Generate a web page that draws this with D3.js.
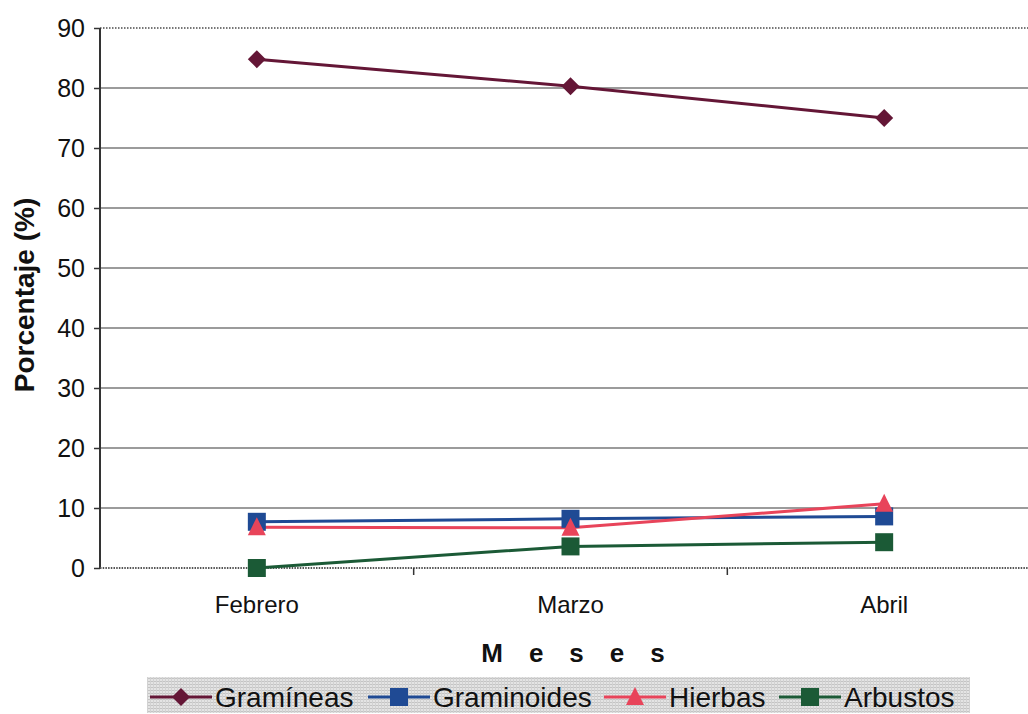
<!DOCTYPE html>
<html>
<head>
<meta charset="utf-8">
<script src="https://cdn.jsdelivr.net/npm/d3@7"></script>
<style>
  html, body { margin: 0; padding: 0; background: #fff; }
  svg { display: block; font-family: Arial, "Liberation Sans", sans-serif; }
</style>
</head>
<body>
<svg id="chart" width="1028" height="714"></svg>
<script>
// Months on the x axis
const months = ["Febrero", "Marzo", "Abril"];
// Percentage per plant group and month
const gramineas   = [84.8, 80.3, 75.0];
const graminoides = [7.7, 8.2, 8.6];
const hierbas     = [6.8, 6.7, 10.7];
const arbustos    = [0.0, 3.6, 4.3];
// Y axis ticks
const yTicks = [0, 10, 20, 30, 40, 50, 60, 70, 80, 90];

const series = [
  { name: "Gramíneas",   values: gramineas,   color: "#641636", marker: "diamond" },
  { name: "Graminoides", values: graminoides, color: "#1f4a94", marker: "square" },
  { name: "Hierbas",     values: hierbas,     color: "#e8445a", marker: "triangle" },
  { name: "Arbustos",    values: arbustos,    color: "#1b5a36", marker: "square" }
];

const svg = d3.select("#chart");
const plotLeft = 100, plotRight = 1041, plotTop = 28, plotBottom = 568;

const x = d3.scaleBand().domain(months).range([plotLeft, plotRight]);
const y = d3.scaleLinear().domain([0, 90]).range([plotBottom, plotTop]);

// Horizontal gridlines
svg.append("g").selectAll("line")
  .data(yTicks.filter(d => d > 0 && d < 90))
  .join("line")
  .attr("x1", plotLeft).attr("x2", 1028)
  .attr("y1", d => y(d)).attr("y2", d => y(d))
  .attr("stroke", "#7a7a7a").attr("stroke-width", 1.4);

// Top border (dotted)
svg.append("line")
  .attr("x1", plotLeft).attr("x2", 1028)
  .attr("y1", y(90)).attr("y2", y(90))
  .attr("stroke", "#777").attr("stroke-width", 2)
  .attr("stroke-dasharray", "1.5,1.5");

// Y axis
const yAxis = svg.append("g")
  .attr("transform", `translate(${plotLeft},0)`)
  .call(d3.axisLeft(y).tickValues(yTicks).tickSize(6).tickPadding(9));
yAxis.select(".domain").attr("stroke", "#333").attr("stroke-width", 2)
  .attr("d", `M0,${y(90)}V${y(0)}`);
yAxis.selectAll(".tick line").attr("stroke", "#333").attr("stroke-width", 1.5);
yAxis.selectAll(".tick text")
  .attr("font-size", 25).attr("fill", "#111")
  .attr("font-family", "Arial, 'Liberation Sans', sans-serif");

// X axis (ticks between categories)
const xAxis = svg.append("g")
  .attr("transform", `translate(0,${plotBottom})`)
  .call(d3.axisBottom(x).tickSize(0).tickPadding(28));
xAxis.select(".domain").remove();
xAxis.selectAll(".tick text")
  .attr("font-size", 24).attr("fill", "#111")
  .attr("font-family", "Arial, 'Liberation Sans', sans-serif");
svg.append("line")
  .attr("x1", plotLeft).attr("x2", 1028)
  .attr("y1", plotBottom).attr("y2", plotBottom)
  .attr("stroke", "#555").attr("stroke-width", 2)
  .attr("stroke-dasharray", "1.5,1.2");
svg.append("g").selectAll("line")
  .data(months.slice(1))
  .join("line")
  .attr("x1", d => x(d)).attr("x2", d => x(d))
  .attr("y1", plotBottom).attr("y2", plotBottom + 7)
  .attr("stroke", "#333").attr("stroke-width", 1.5);

// Axis titles
svg.append("text")
  .attr("transform", `translate(34,${(plotTop + plotBottom) / 2 - 3}) rotate(-90)`)
  .attr("text-anchor", "middle")
  .attr("font-size", 28).attr("font-weight", "bold").attr("fill", "#111")
  .text("Porcentaje (%)");
svg.append("text")
  .attr("x", 586).attr("y", 662)
  .attr("text-anchor", "middle")
  .attr("font-size", 26).attr("font-weight", "bold").attr("fill", "#111")
  .attr("letter-spacing", "26px")
  .text("Meses");

// Marker shapes
function markerPath(type) {
  if (type === "diamond") return "M0,-9L9,0L0,9L-9,0Z";
  if (type === "triangle") return "M0,-10L9,8L-9,8Z";
  return "M-9,-9H9V9H-9Z";
}

const line = d3.line()
  .x((d, i) => x(months[i]) + x.bandwidth() / 2)
  .y(d => y(d));

const plot = svg.append("g");
series.forEach(s => {
  plot.append("path")
    .attr("d", line(s.values))
    .attr("fill", "none")
    .attr("stroke", s.color)
    .attr("stroke-width", 3);
});
series.forEach(s => {
  plot.append("g").selectAll("path")
    .data(s.values)
    .join("path")
    .attr("transform", (d, i) => `translate(${x(months[i]) + x.bandwidth() / 2},${y(d)})`)
    .attr("d", markerPath(s.marker))
    .attr("fill", s.color);
});

// Legend with hatched grey background
const defs = svg.append("defs");
const pat = defs.append("pattern")
  .attr("id", "hatch").attr("patternUnits", "userSpaceOnUse")
  .attr("width", 3).attr("height", 3);
pat.append("rect").attr("width", 3).attr("height", 3).attr("fill", "#e4e4e4");
pat.append("rect").attr("width", 3).attr("height", 1).attr("fill", "#c4c4c4");
pat.append("rect").attr("width", 1).attr("height", 3).attr("fill", "#d2d2d2");

svg.append("rect")
  .attr("x", 147).attr("y", 677).attr("width", 823).attr("height", 36)
  .attr("fill", "url(#hatch)");

const legendX = [150, 368, 604, 779];
const legend = svg.append("g").selectAll("g")
  .data(series)
  .join("g")
  .attr("transform", (d, i) => `translate(${legendX[i]},697)`);
legend.append("line")
  .attr("x1", 0).attr("x2", 62)
  .attr("stroke", d => d.color).attr("stroke-width", 3);
legend.append("path")
  .attr("transform", "translate(31,0)")
  .attr("d", d => markerPath(d.marker))
  .attr("fill", d => d.color);
legend.append("text")
  .attr("x", 65).attr("y", 10)
  .attr("font-size", 28).attr("fill", "#111")
  .text(d => d.name);
</script>
</body>
</html>
